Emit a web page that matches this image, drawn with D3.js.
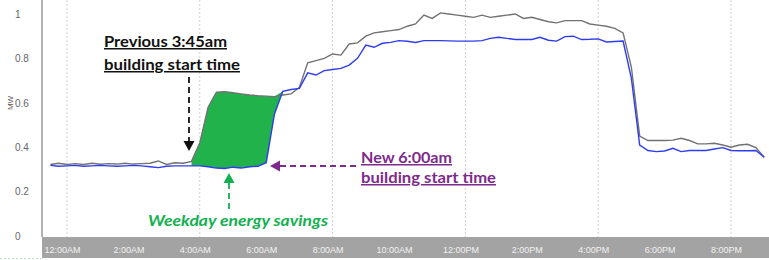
<!DOCTYPE html>
<html>
<head>
<meta charset="utf-8">
<script src="https://cdn.jsdelivr.net/npm/d3@7"></script>
<style>
  body { margin: 0; background: #fff; }
  svg { display: block; }
  .ann { font-family: Lato, "Open Sans", sans-serif; font-weight: bold; font-size: 15px; text-decoration: underline; }
</style>
</head>
<body>
<div id="chart"></div>
<script>
// hours after midnight, 15 minute steps
var hours = d3.range(-0.5, 21.01, 0.25);

// previous schedule (3:45am start), MW
var previous = [
  0.322, 0.328, 0.322, 0.326, 0.322, 0.328, 0.323, 0.326, 0.324, 0.328,
  0.324, 0.326, 0.328, 0.338, 0.322, 0.330, 0.328, 0.336, 0.420, 0.580,
  0.648, 0.650, 0.645, 0.640, 0.635, 0.632, 0.630, 0.628, 0.635, 0.640,
  0.670, 0.780, 0.790, 0.800, 0.820, 0.815, 0.865, 0.870, 0.900, 0.915,
  0.920, 0.925, 0.930, 0.945, 0.955, 0.995, 0.980, 1.005, 1.000, 0.995,
  0.990, 0.985, 0.995, 0.985, 0.990, 0.995, 1.000, 0.980, 0.985, 0.975,
  0.965, 0.960, 0.970, 0.970, 0.970, 0.955, 0.950, 0.945, 0.935, 0.915,
  0.760, 0.450, 0.430, 0.430, 0.430, 0.432, 0.440, 0.430, 0.415, 0.415,
  0.418, 0.410, 0.400, 0.410, 0.413, 0.398, 0.355
];
// new schedule (6:00am start), MW
var current = [
  0.318, 0.314, 0.316, 0.318, 0.314, 0.316, 0.318, 0.316, 0.314, 0.316,
  0.318, 0.316, 0.312, 0.308, 0.314, 0.316, 0.316, 0.316, 0.316, 0.312,
  0.306, 0.304, 0.310, 0.306, 0.312, 0.314, 0.330, 0.550, 0.652, 0.660,
  0.665, 0.735, 0.725, 0.745, 0.750, 0.755, 0.770, 0.800, 0.860, 0.850,
  0.868, 0.872, 0.880, 0.877, 0.872, 0.880, 0.880, 0.880, 0.879, 0.878,
  0.878, 0.878, 0.880, 0.890, 0.895, 0.890, 0.885, 0.885, 0.885, 0.895,
  0.882, 0.878, 0.898, 0.900, 0.885, 0.886, 0.888, 0.874, 0.876, 0.878,
  0.710, 0.410, 0.385, 0.380, 0.383, 0.395, 0.380, 0.385, 0.385, 0.385,
  0.392, 0.398, 0.385, 0.384, 0.384, 0.385, 0.355
];

var yTicks = [0, 0.2, 0.4, 0.6, 0.8, 1];
var xTicks = [0, 2, 4, 6, 8, 10, 12, 14, 16, 18, 20];
var xTickLabels = ["12:00AM", "2:00AM", "4:00AM", "6:00AM", "8:00AM", "10:00AM",
                   "12:00PM", "2:00PM", "4:00PM", "6:00PM", "8:00PM"];
var gridHours = [0, 4, 8, 12, 16, 20];
var savingsFrom = 3.75, savingsTo = 6.5;

var width = 769, height = 260;
var left = 42, bottom = 237;

var x = d3.scaleLinear().domain([-0.753, 21.145]).range([left, width]);
var y = d3.scaleLinear().domain([0, 1]).range([236, 14]);

var svg = d3.select("#chart").append("svg")
  .attr("width", width)
  .attr("height", height);

var rows = hours.map(function(h, i) {
  return { h: h, prev: previous[i], cur: current[i] };
});

// x axis band
svg.append("rect")
  .attr("x", left).attr("y", bottom)
  .attr("width", width - left).attr("height", 21)
  .attr("fill", "#a3a3a3");

svg.append("line")
  .attr("x1", 0).attr("x2", left)
  .attr("y1", 258.5).attr("y2", 258.5)
  .attr("stroke", "#b8e6b8").attr("stroke-dasharray", "2,2");

// dotted grid
svg.selectAll(".grid")
  .data(gridHours)
  .enter().append("line")
  .attr("class", "grid")
  .attr("x1", function(d) { return x(d); })
  .attr("x2", function(d) { return x(d); })
  .attr("y1", 0).attr("y2", bottom)
  .attr("stroke", "#cfcfcf")
  .attr("stroke-dasharray", "2,2");

// left border
svg.append("line")
  .attr("x1", left).attr("x2", left)
  .attr("y1", 0).attr("y2", bottom)
  .attr("stroke", "#9a9a9a").attr("stroke-width", 1.5);

// y axis labels
var yAxis = svg.append("g")
  .attr("transform", "translate(" + left + ",0)")
  .call(d3.axisLeft(y).tickValues(yTicks).tickSize(0).tickFormat(d3.format("")));
yAxis.select(".domain").remove();
yAxis.selectAll("text")
  .attr("x", 15 - left)
  .attr("text-anchor", "start")
  .attr("fill", "#666")
  .style("font-family", "'Liberation Sans', sans-serif")
  .style("font-size", "10px");

svg.append("text")
  .attr("transform", "translate(13,103) rotate(-90)")
  .attr("text-anchor", "middle")
  .attr("fill", "#555")
  .style("font-family", "'Liberation Sans', sans-serif")
  .style("font-size", "8px")
  .text("MW");

// x axis labels
var xAxis = svg.append("g")
  .attr("transform", "translate(0," + bottom + ")")
  .call(d3.axisBottom(x).tickValues(xTicks).tickSize(0)
    .tickFormat(function(d, i) { return xTickLabels[i]; }));
xAxis.select(".domain").remove();
xAxis.selectAll("text")
  .attr("y", 16)
  .attr("dy", 0)
  .attr("dx", -5)
  .attr("fill", "#f2f2f2")
  .style("font-family", "'Liberation Sans', sans-serif")
  .style("font-size", "9px")
  .attr("textLength", function(d, i) { return xTickLabels[i].length * 5.15; })
  .attr("lengthAdjust", "spacingAndGlyphs");

// savings area
var area = d3.area()
  .x(function(d) { return x(d.h); })
  .y0(function(d) { return y(d.cur); })
  .y1(function(d) { return y(Math.max(d.cur, d.prev)); });

svg.append("path")
  .datum(rows.filter(function(d) { return d.h >= savingsFrom && d.h <= savingsTo; }))
  .attr("d", area)
  .attr("fill", "#22b24c");

var line = function(key) {
  return d3.line()
    .x(function(d) { return x(d.h); })
    .y(function(d) { return y(d[key]); });
};

svg.append("path")
  .datum(rows)
  .attr("d", line("prev"))
  .attr("fill", "none")
  .attr("stroke", "#727272")
  .attr("stroke-width", 1.4);

svg.append("path")
  .datum(rows)
  .attr("d", line("cur"))
  .attr("fill", "none")
  .attr("stroke", "#2e3cf0")
  .attr("stroke-width", 1.4);

// annotations
var ann = [
  { text: "Previous 3:45am", x: 104, y: 47, w: 123, c: "#111" },
  { text: "building start time", x: 104, y: 70, w: 136, c: "#111" },
  { text: "New 6:00am", x: 361, y: 163, w: 91, c: "#7e2a8c" },
  { text: "building start time", x: 361, y: 183, w: 135, c: "#7e2a8c" }
];
svg.selectAll(".ann")
  .data(ann)
  .enter().append("text")
  .attr("class", "ann")
  .attr("x", function(d) { return d.x; })
  .attr("y", function(d) { return d.y; })
  .attr("fill", function(d) { return d.c; })
  .attr("textLength", function(d) { return d.w; })
  .attr("lengthAdjust", "spacingAndGlyphs")
  .text(function(d) { return d.text; });

svg.append("text")
  .attr("x", 148).attr("y", 226)
  .attr("fill", "#13b04f")
  .attr("textLength", 180)
  .attr("lengthAdjust", "spacingAndGlyphs")
  .style("font-family", "Lato, 'Open Sans', sans-serif")
  .style("font-weight", "bold")
  .style("font-style", "italic")
  .style("font-size", "15px")
  .text("Weekday energy savings");

// arrows
function arrow(x1, y1, x2, y2, color) {
  var ang = Math.atan2(y2 - y1, x2 - x1);
  var hl = 10, hw = 5.5;
  var bx = x2 - hl * Math.cos(ang), by = y2 - hl * Math.sin(ang);
  svg.append("line")
    .attr("x1", x1).attr("y1", y1).attr("x2", bx).attr("y2", by)
    .attr("stroke", color).attr("stroke-width", 1.8)
    .attr("stroke-dasharray", "6,4");
  var px = -Math.sin(ang) * hw, py = Math.cos(ang) * hw;
  svg.append("path")
    .attr("d", "M" + x2 + "," + y2 + "L" + (bx + px) + "," + (by + py) + "L" + (bx - px) + "," + (by - py) + "Z")
    .attr("fill", color);
}
arrow(189, 77, 189, 151, "#111");
arrow(356, 166, 270, 166, "#7e2a8c");
arrow(229, 209, 229, 173, "#13b04f");
</script>
</body>
</html>
